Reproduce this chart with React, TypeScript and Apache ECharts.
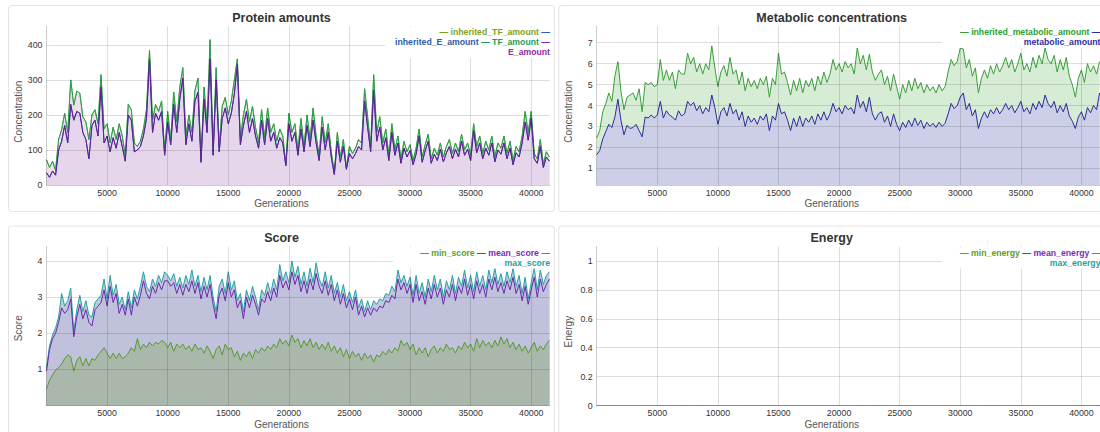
import React, { useEffect, useRef } from "react";
import * as echarts from "echarts";

// ---------- data ----------
const generations = [
  0, 250, 500, 750, 1000, 1250, 1500, 1750, 2000, 2250, 2500, 2750, 3000, 3250, 3500, 3750,
  4000, 4250, 4500, 4750, 5000, 5250, 5500, 5750, 6000, 6250, 6500, 6750, 7000, 7250, 7500, 7750,
  8000, 8250, 8500, 8750, 9000, 9250, 9500, 9750, 10000, 10250, 10500, 10750, 11000, 11250, 11500, 11750,
  12000, 12250, 12500, 12750, 13000, 13250, 13500, 13750, 14000, 14250, 14500, 14750, 15000, 15250, 15500, 15750,
  16000, 16250, 16500, 16750, 17000, 17250, 17500, 17750, 18000, 18250, 18500, 18750, 19000, 19250, 19500, 19750,
  20000, 20250, 20500, 20750, 21000, 21250, 21500, 21750, 22000, 22250, 22500, 22750, 23000, 23250, 23500, 23750,
  24000, 24250, 24500, 24750, 25000, 25250, 25500, 25750, 26000, 26250, 26500, 26750, 27000, 27250, 27500, 27750,
  28000, 28250, 28500, 28750, 29000, 29250, 29500, 29750, 30000, 30250, 30500, 30750, 31000, 31250, 31500, 31750,
  32000, 32250, 32500, 32750, 33000, 33250, 33500, 33750, 34000, 34250, 34500, 34750, 35000, 35250, 35500, 35750,
  36000, 36250, 36500, 36750, 37000, 37250, 37500, 37750, 38000, 38250, 38500, 38750, 39000, 39250, 39500, 39750,
  40000, 40250, 40500, 40750, 41000, 41250, 41500,
];

const tfAmount = [
  72, 50, 68, 42, 130, 158, 205, 150, 300, 228, 268, 262, 195, 180, 130, 200,
  215, 175, 315, 160, 175, 120, 165, 130, 175, 140, 85, 230, 215, 120, 110, 125,
  160, 215, 385, 185, 230, 210, 240, 95, 210, 130, 265, 180, 280, 335, 140, 200,
  150, 270, 305, 75, 280, 175, 415, 95, 335, 110, 225, 250, 200, 240, 300, 360,
  130, 200, 245, 180, 225, 165, 120, 215, 135, 220, 150, 175, 125, 160, 140, 60,
  205, 150, 175, 100, 190, 110, 200, 130, 220, 140, 85, 195, 120, 175, 95, 35,
  150, 80, 130, 50, 110, 90, 105, 130, 120, 275, 195, 110, 315, 150, 195, 120,
  160, 85, 175, 100, 140, 75, 125, 95, 115, 70, 105, 160, 80, 115, 145, 75,
  105, 85, 120, 80, 110, 130, 90, 120, 95, 145, 100, 120, 85, 175, 110, 140,
  90, 125, 100, 140, 80, 120, 105, 140, 90, 125, 70, 110, 95, 140, 210, 150,
  210, 90, 75, 130, 60, 95, 80,
];

const eAmount = [
  35, 22, 40, 28, 100, 125, 170, 120, 230, 185, 210, 205, 150, 130, 75, 170,
  185, 140, 280, 120, 140, 95, 135, 105, 150, 110, 68, 200, 185, 95, 100, 110,
  140, 190, 360, 150, 205, 185, 210, 85, 180, 115, 230, 150, 245, 305, 115, 175,
  125, 240, 265, 65, 245, 150, 360, 85, 300, 95, 190, 220, 175, 205, 260, 345,
  115, 170, 210, 150, 190, 140, 105, 185, 115, 190, 125, 150, 105, 135, 120, 55,
  175, 125, 150, 85, 160, 95, 170, 110, 185, 120, 70, 165, 100, 150, 80, 30,
  125, 65, 110, 45, 90, 75, 90, 110, 100, 240, 165, 95, 270, 125, 165, 100,
  135, 70, 150, 85, 120, 62, 105, 80, 98, 58, 88, 140, 65, 98, 125, 62,
  88, 70, 102, 66, 92, 110, 75, 102, 80, 125, 85, 102, 70, 155, 92, 120,
  75, 105, 85, 120, 66, 100, 88, 120, 75, 105, 58, 92, 80, 120, 180, 128,
  190, 75, 62, 110, 50, 80, 68,
];

// the inherited protein curves lie exactly under the current ones
const inheritedTfAmount = tfAmount;
const inheritedEAmount = eAmount;

const inheritedMetabolicAmount = [
  2.45, 2.8, 3.7, 4.1, 4.6, 4.2, 5.4, 6.1, 4.7, 3.8, 4.4, 4.5, 4.6, 4.25, 4.8, 3.7,
  5.1, 5.0, 5.1, 4.9, 5.0, 6.2, 5.2, 5.7, 5.2, 5.6, 4.8, 5.7, 5.5, 5.5, 6.5, 6.0,
  6.3, 5.6, 6.0, 5.5, 6.0, 5.7, 6.85, 5.8, 4.9, 5.6, 5.9, 5.4, 6.3, 5.5, 5.7, 5.0,
  5.6, 4.7, 5.3, 4.9, 5.2, 4.8, 5.3, 5.0, 5.4, 4.4, 5.3, 5.0, 6.5, 5.5, 5.6, 5.1,
  4.5, 5.2, 4.7, 5.3, 4.6, 5.2, 4.9, 5.3, 4.7, 5.4, 5.0, 5.6, 5.1, 5.5, 6.2, 5.7,
  6.0, 5.6, 6.1, 5.8, 6.0, 5.5, 6.75, 6.0, 6.4, 5.7, 6.45, 5.6, 5.2, 5.5, 5.7, 5.0,
  5.4, 4.7, 5.5, 4.9, 4.3, 5.0, 4.6, 5.2, 4.7, 5.3, 4.8, 5.1, 4.6, 5.0, 4.7, 4.9,
  4.6, 5.0, 4.7, 4.9, 5.6, 6.2, 5.9, 6.1, 6.75, 6.7, 5.8, 6.2, 5.4, 5.8, 4.6, 5.3,
  5.7, 5.3, 5.9, 5.5, 6.0, 5.6, 5.9, 6.3, 5.8, 6.2, 5.6, 6.0, 6.5, 5.7, 6.0, 5.6,
  6.3, 5.8, 6.4, 6.0, 6.75, 6.2, 6.0, 6.4, 5.6, 6.2, 5.7, 6.3, 5.4, 5.0, 4.4, 5.3,
  5.7, 5.1, 6.0, 5.6, 5.9, 5.5, 6.1,
];

const metabolicAmount = [
  1.65, 1.85, 2.4, 2.75, 3.1, 2.95, 3.45, 4.3, 3.3, 2.6, 3.05, 2.9, 2.95, 3.1, 2.8, 2.5,
  3.45, 3.4, 3.55, 3.4, 3.55, 4.2, 3.4, 3.75, 3.55, 3.45, 3.3, 3.75, 3.5, 3.6, 4.2, 4.0,
  4.15, 3.75, 4.0, 3.6, 3.9, 3.7, 4.5, 3.9, 3.1, 3.7, 3.9, 3.5, 4.1, 3.6, 3.8, 3.3,
  3.7, 3.0, 3.5, 3.2, 3.4, 3.1, 3.5, 3.3, 3.6, 2.8, 3.5, 3.3, 4.1, 3.6, 3.7, 3.3,
  2.8, 3.4, 3.0, 3.5, 3.0, 3.4, 3.2, 3.5, 3.1, 3.6, 3.3, 3.7, 3.3, 3.6, 4.1, 3.7,
  3.9, 3.6, 4.0, 3.8, 3.9, 3.6, 4.5, 3.9, 4.2, 3.7, 4.4, 3.6, 3.3, 3.6, 3.7, 3.2,
  3.5, 3.0, 3.6, 3.1, 2.8, 3.2, 2.95, 3.3, 3.0, 3.4, 3.05, 3.3, 2.9, 3.2, 3.0, 3.15,
  2.95, 3.2, 3.0, 3.15, 3.6, 4.1, 3.85, 4.0, 4.4, 4.6, 3.8, 4.1, 3.5, 3.8, 2.9, 3.4,
  3.7, 3.4, 3.8, 3.6, 3.9, 3.6, 3.8, 4.1, 3.8, 4.0, 3.65, 3.9, 4.2, 3.7, 3.9, 3.6,
  4.1, 3.8, 4.2, 3.9, 4.5, 4.1, 3.9, 4.2, 3.65, 4.0, 3.7, 4.1, 3.5, 3.25, 2.9, 3.45,
  3.7, 3.3, 3.9, 3.65, 4.0, 3.8, 4.6,
];

const minScore = [
  0.45, 0.7, 0.85, 0.98, 1.05, 1.15, 1.3, 1.4, 1.35, 0.95, 1.25, 1.35, 1.1, 1.3, 1.1, 1.3,
  1.25, 1.4, 1.5, 1.6, 1.45, 1.3, 1.45, 1.3, 1.45, 1.3, 1.35, 1.45, 1.6, 1.5, 1.85, 1.55,
  1.7, 1.6, 1.75, 1.65, 1.75, 1.7, 1.8, 1.75, 1.6, 1.75, 1.5, 1.7, 1.6, 1.7, 1.55, 1.65,
  1.5, 1.7, 1.55, 1.6, 1.45, 1.65, 1.5, 1.3, 1.55, 1.65, 1.4, 1.7, 1.55, 1.6, 1.35, 1.5,
  1.25, 1.45, 1.35, 1.5, 1.3, 1.55, 1.45, 1.6, 1.5, 1.65, 1.55, 1.7, 1.6, 1.85, 1.7, 1.8,
  1.65, 1.95, 1.75, 1.85, 1.6, 1.8, 1.65, 1.85, 1.6, 1.75, 1.55, 1.7, 1.55, 1.75, 1.5, 1.65,
  1.45, 1.6, 1.35, 1.55, 1.3, 1.5, 1.35, 1.45, 1.25, 1.45, 1.3, 1.4, 1.2, 1.4, 1.35, 1.5,
  1.4, 1.55, 1.45, 1.6, 1.5, 1.8, 1.65, 1.75, 1.55, 1.7, 1.4, 1.6, 1.45, 1.6, 1.35, 1.55,
  1.65, 1.45, 1.6, 1.5, 1.7, 1.55, 1.6, 1.45, 1.65, 1.55, 1.75, 1.6, 1.7, 1.5, 1.85, 1.6,
  1.8, 1.65, 1.75, 1.6, 1.8, 1.65, 1.9, 1.7, 1.85, 1.6, 1.75, 1.55, 1.7, 1.5, 1.65, 1.45,
  1.6, 1.75, 1.5, 1.65, 1.55, 1.7, 1.8,
];

const meanScore = [
  0.95, 1.55, 1.85, 2.0, 2.3, 2.7, 2.55, 2.65, 2.95, 1.9, 2.45, 2.8, 2.4, 2.65, 2.3, 2.2,
  2.65, 2.75, 2.85, 3.2, 2.75, 3.3, 2.85, 3.1, 2.55, 2.8, 2.5, 2.95, 2.5, 3.0, 2.75, 3.05,
  3.45, 3.1, 2.95, 3.3, 3.1, 3.4, 3.2, 3.45, 3.45, 3.3, 3.4, 3.1, 3.35, 3.05, 3.35, 3.15,
  3.45, 3.1, 3.4, 2.95, 3.3, 3.0, 3.35, 2.8, 2.4, 3.05, 3.25, 2.9, 3.4, 3.0, 3.2, 2.7,
  2.9, 2.4, 3.0, 2.7, 3.05, 2.8, 2.5, 2.95, 2.85, 3.15, 2.9, 3.25, 3.0, 3.6, 3.25, 3.45,
  3.2, 3.7, 3.35, 3.6, 3.15, 3.45, 3.1, 3.5, 3.2, 3.65, 3.3, 3.1, 3.45, 3.05, 3.35, 2.9,
  3.2, 2.8, 3.1, 2.7, 2.95, 2.65, 3.0, 2.5, 2.75, 2.45, 2.7, 2.5, 2.7, 2.6, 2.75, 2.7,
  2.9, 2.85, 3.05, 2.95, 3.5, 3.2, 3.4, 3.1, 3.35, 2.85, 3.35, 2.9, 3.15, 2.8, 3.25, 2.95,
  3.35, 3.0, 3.25, 2.8, 3.2, 3.0, 3.35, 2.9, 3.3, 3.1, 3.5, 3.05, 3.35, 2.95, 3.45, 3.1,
  3.35, 3.0, 3.5, 3.2, 3.55, 3.15, 3.4, 3.1, 3.45, 3.2, 3.55, 3.1, 3.35, 2.9, 3.3, 2.8,
  3.2, 3.55, 3.0, 3.5, 3.15, 3.35, 3.5,
];

const maxScore = [
  1.05, 1.65, 1.95, 2.15, 2.45, 3.1, 2.75, 2.9, 3.25, 2.05, 2.65, 3.05, 2.6, 2.9, 2.5, 2.45,
  2.85, 2.95, 3.05, 3.5, 2.95, 3.6, 3.05, 3.35, 2.8, 3.0, 2.65, 3.15, 2.7, 3.2, 2.95, 3.3,
  3.7, 3.3, 3.15, 3.5, 3.3, 3.6, 3.4, 3.7, 3.6, 3.45, 3.65, 3.3, 3.55, 3.25, 3.6, 3.35,
  3.75, 3.3, 3.6, 3.15, 3.55, 3.2, 3.6, 3.0, 2.6, 3.3, 3.5, 3.1, 3.7, 3.2, 3.45, 2.9,
  3.1, 2.6, 3.2, 2.9, 3.3, 3.0, 2.65, 3.2, 3.05, 3.4, 3.1, 3.5, 3.2, 3.9, 3.45, 3.7,
  3.4, 4.0, 3.55, 3.85, 3.35, 3.7, 3.3, 3.8, 3.4, 3.95, 3.5, 3.3, 3.7, 3.25, 3.6, 3.1,
  3.4, 3.0, 3.35, 2.9, 3.15, 2.85, 3.2, 2.7, 2.95, 2.6, 2.9, 2.65, 2.9, 2.8, 2.95, 2.9,
  3.1, 3.05, 3.3, 3.15, 3.75, 3.4, 3.6, 3.3, 3.55, 3.05, 3.6, 3.1, 3.4, 3.0, 3.5, 3.15,
  3.6, 3.2, 3.5, 3.0, 3.45, 3.2, 3.6, 3.1, 3.55, 3.3, 3.75, 3.25, 3.6, 3.15, 3.7, 3.3,
  3.6, 3.2, 3.75, 3.4, 3.8, 3.35, 3.65, 3.3, 3.7, 3.4, 3.8, 3.3, 3.6, 3.1, 3.55, 2.95,
  3.4, 3.8, 3.2, 3.75, 3.35, 3.6, 3.7,
];

// energy stays at 0 for every generation
const minEnergy = generations.map(() => 0);
const meanEnergy = generations.map(() => 0);
const maxEnergy = generations.map(() => 0);

const xTicksMax = 41550;

// ---------- styling ----------
const FONT = "'Liberation Sans', Arial, Helvetica, sans-serif";
const PLOT_W = 503.5;
const PLOT_H = 159;

type Panel = {
  title: string;
  yName: string;
  ox: number;
  oy: number;
  yMin: number;
  yMax: number;
  yInterval?: number;
  splitNumber?: number;
  showMinY: boolean;
  yNameY: number;
};

const panels: Panel[] = [
  { title: "Protein amounts", yName: "Concentration", ox: 0, oy: 0, yMin: 0, yMax: 454, yInterval: 100, showMinY: true, yNameY: 111.7 },
  { title: "Metabolic concentrations", yName: "Concentration", ox: 550.2, oy: 0, yMin: 0.2, yMax: 7.8, splitNumber: 8, showMinY: false, yNameY: 111.7 },
  { title: "Score", yName: "Score", ox: 0, oy: 220.5, yMin: 0, yMax: 4.4, yInterval: 1, showMinY: false, yNameY: 328.3 },
  { title: "Energy", yName: "Energy", ox: 550.2, oy: 220.5, yMin: 0, yMax: 1.1, yInterval: 0.2, showMinY: true, yNameY: 331.7 },
];

function pairs(values: number[]) {
  return generations.map((g, i) => [g, values[i]]);
}

function lineSeries(name: string, values: number[], idx: number, color: string, fill: string | null, z = 2) {
  const s: any = {
    type: "line",
    name,
    xAxisIndex: idx,
    yAxisIndex: idx,
    data: pairs(values),
    showSymbol: false,
    symbol: "none",
    silent: true,
    lineStyle: { color, width: 1 },
    itemStyle: { color },
    z,
  };
  if (fill) s.areaStyle = { color: fill, opacity: 1, origin: "start" };
  return s;
}

function legendLines(right: number, top: number, boxLeft: number, lines: string[], rich: Record<string, string>) {
  const richStyles: any = {};
  Object.keys(rich).forEach((k) => {
    richStyles[k] = { fill: rich[k], color: rich[k], fontSize: 8.7, fontWeight: "bold", fontFamily: FONT };
  });
  const els: any[] = [
    {
      type: "rect",
      z: 20,
      silent: true,
      shape: { x: boxLeft, y: top, width: right - boxLeft + 1, height: lines.length * 10 + 1 },
      style: { fill: "#ffffff" },
    },
  ];
  lines.forEach((t, i) => {
    els.push({
      type: "text",
      z: 21,
      silent: true,
      x: right,
      y: top + 5.3 + i * 10,
      style: {
        text: t,
        rich: richStyles,
        align: "right",
        verticalAlign: "middle",
        fontSize: 8.7,
        fontWeight: "bold",
        fontFamily: FONT,
        fill: "#333",
      },
    });
  });
  return els;
}

function buildOption() {
  const grid = panels.map((p) => ({
    left: p.ox + 46.5,
    top: p.oy + 26,
    width: PLOT_W,
    height: PLOT_H,
    containLabel: false,
    outerBoundsMode: "none",
  }));

  const labelStyle = { fontSize: 8.8, color: "#333", fontFamily: FONT };
  const gridColor = "rgba(0,0,0,0.13)";

  const xAxis = panels.map((_, i) => ({
    type: "value",
    gridIndex: i,
    min: 0,
    max: xTicksMax,
    interval: 5000,
    z: 10,
    axisLine: { show: true, onZero: false, lineStyle: { color: "rgba(0,0,0,0.2)", width: 1 } },
    axisTick: { show: false },
    axisLabel: { ...labelStyle, margin: 3, showMinLabel: false, showMaxLabel: false, formatter: (v: number) => String(v) },
    splitLine: { show: true, showMinLine: false, showMaxLine: false, lineStyle: { color: gridColor, width: 1 } },
  }));

  const yAxis = panels.map((p, i) => {
    const a: any = {
      type: "value",
      gridIndex: i,
      min: p.yMin,
      max: p.yMax,
      z: 10,
      axisLine: { show: true, onZero: false, lineStyle: { color: "rgba(0,0,0,0.2)", width: 1 } },
      axisTick: { show: false },
      axisLabel: { ...labelStyle, margin: 4, showMinLabel: p.showMinY, showMaxLabel: false, formatter: (v: number) => String(Math.round(v * 1000) / 1000) },
      splitLine: { show: true, showMinLine: false, showMaxLine: false, lineStyle: { color: gridColor, width: 1 } },
    };
    if (p.yInterval !== undefined) a.interval = p.yInterval;
    if (p.splitNumber !== undefined) a.splitNumber = p.splitNumber;
    return a;
  });

  const series = [
    // protein amounts
    lineSeries("inherited_TF_amount", inheritedTfAmount, 0, "#8aa52a", "#ede6f0"),
    lineSeries("TF_amount", tfAmount, 0, "#26a05c", "#ebe2ee"),
    lineSeries("inherited_E_amount", inheritedEAmount, 0, "#2a5caa", null),
    lineSeries("E_amount", eAmount, 0, "#651f93", "#e5d6eb"),
    // metabolic concentrations
    lineSeries("inherited_metabolic_amount", inheritedMetabolicAmount, 1, "#3a9e3a", "#d6ecd4"),
    lineSeries("metabolic_amount", metabolicAmount, 1, "#2e2e98", "#cdcfe8"),
    // score
    lineSeries("max_score", maxScore, 2, "#22a3a3", "#c3c6dd"),
    lineSeries("mean_score", meanScore, 2, "#6a2ab0", "#c0c2db"),
    lineSeries("min_score", minScore, 2, "#5a9a2e", "#a9b8ab"),
    // energy (flat at zero, drawn above the axis line)
    lineSeries("min_energy", minEnergy, 3, "#5a9a2e", null, 12),
    lineSeries("mean_energy", meanEnergy, 3, "#6a2ab0", null, 12),
    lineSeries("max_energy", maxEnergy, 3, "#3aaaaa", null, 12),
  ];

  const graphic: any[] = [];
  panels.forEach((p) => {
    graphic.push({
      type: "rect",
      z: -1,
      silent: true,
      shape: { x: p.ox + 8.5, y: p.oy + 5.5, width: 546, height: p.oy > 0 ? 215 : 206, r: 3 },
      style: { fill: "none", stroke: "#e3e3e3", lineWidth: 1 },
    });
    graphic.push({
      type: "text",
      z: 21,
      silent: true,
      x: p.ox + 281.5,
      y: p.oy + 17.5,
      style: { text: p.title, align: "center", verticalAlign: "middle", fontSize: 12.5, fontWeight: "bold", fontFamily: FONT, fill: "#333" },
    });
    graphic.push({
      type: "text",
      z: 21,
      silent: true,
      x: p.ox + 281.5,
      y: p.oy + 203.8,
      style: { text: "Generations", align: "center", verticalAlign: "middle", fontSize: 10, fontFamily: FONT, fill: "#555" },
    });
    graphic.push({
      type: "text",
      z: 21,
      silent: true,
      x: p.ox + 18.3,
      y: p.yNameY,
      rotation: Math.PI / 2,
      style: { text: p.yName, align: "center", verticalAlign: "middle", fontSize: 10, fontFamily: FONT, fill: "#555" },
    });
  });

  graphic.push(
    ...legendLines(550, 27, 385, [
      "{a|— inherited_TF_amount} {b|—}",
      "{b|inherited_E_amount} {c|— TF_amount} {d|—}",
      "{d|E_amount}",
    ], { a: "#7f9f1c", b: "#2a5caa", c: "#1f9d55", d: "#8e2aa8" })
  );
  graphic.push(
    ...legendLines(1100.5, 27, 942, [
      "{a|— inherited_metabolic_amount} {b|—}",
      "{b|metabolic_amount}",
    ], { a: "#2ca02c", b: "#2e2ea0" })
  );
  graphic.push(
    ...legendLines(550, 247.5, 393, [
      "{a|— min_score} {b|— mean_score} {c|—}",
      "{c|max_score}",
    ], { a: "#5a9e2a", b: "#7b2db3", c: "#1d9f9f" })
  );
  graphic.push(
    ...legendLines(1100.5, 247.5, 942, [
      "{a|— min_energy} {b|— mean_energy} {c|—}",
      "{c|max_energy}",
    ], { a: "#5a9e2a", b: "#7b2db3", c: "#1d9f9f" })
  );

  return {
    animation: false,
    backgroundColor: "#ffffff",
    textStyle: { fontFamily: FONT },
    grid,
    xAxis,
    yAxis,
    series,
    graphic,
  };
}

export default function App() {
  const ref = useRef<HTMLDivElement>(null);
  useEffect(() => {
    if (!ref.current) return;
    const chart = echarts.init(ref.current, undefined, { renderer: "svg" });
    chart.setOption(buildOption() as any);
    return () => chart.dispose();
  }, []);
  return (
    <div
      ref={ref}
      style={{ position: "absolute", left: 0, top: 0, width: 1100, height: 432, background: "#fff" }}
    />
  );
}
